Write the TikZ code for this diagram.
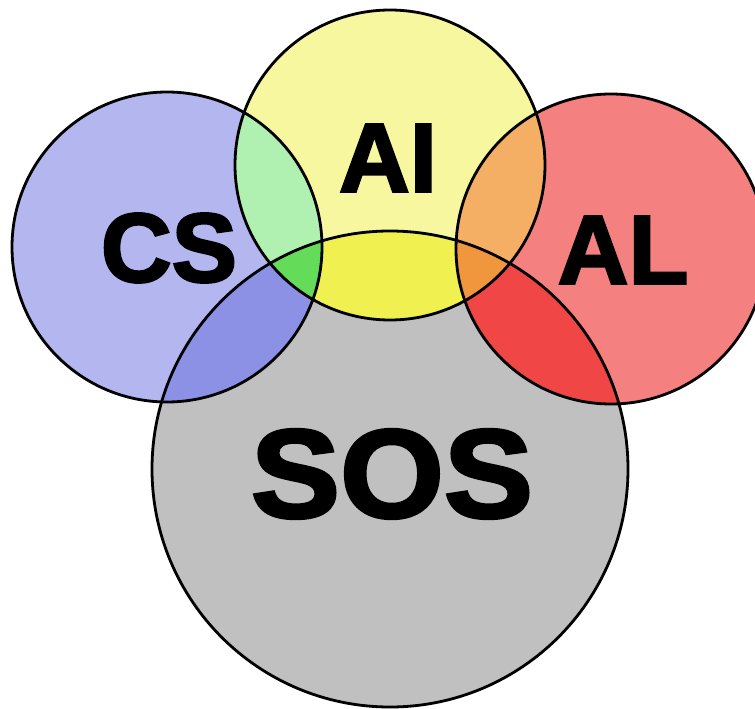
\documentclass[tikz,border=0pt]{standalone}
\usepackage{fontspec}
\setmainfont{Liberation Sans}
\newfontfamily\heavyfont{Liberation Sans}[FakeBold=2.5]
\definecolor{csc}{RGB}{180,182,240}
\definecolor{aic}{RGB}{247,247,160}
\definecolor{alc}{RGB}{245,128,128}
\definecolor{sosc}{RGB}{192,192,192}
\definecolor{csai}{RGB}{176,240,176}
\definecolor{cssos}{RGB}{140,145,230}
\definecolor{aisos}{RGB}{240,240,80}
\definecolor{alsos}{RGB}{240,70,70}
\definecolor{aial}{RGB}{245,175,100}
\definecolor{csaisos}{RGB}{100,220,90}
\definecolor{aialsos}{RGB}{240,150,60}
\tikzset{
  ring/.style={draw=black, line width=2.8pt},
  lbl/.style={inner sep=0pt, font=\heavyfont\bfseries\fontsize{98}{98}\selectfont},
  biglbl/.style={inner sep=0pt, font=\heavyfont\bfseries\fontsize{126}{126}\selectfont, xscale=1.06},
}
\begin{document}
\begin{tikzpicture}[x=1pt,y=-1pt]
\useasboundingbox (0,0) rectangle (755,709);
\clip (0,0) rectangle (755,709);
\def\CS{(167,247) circle[radius=155]}
\def\AI{(390,165) circle[radius=155]}
\def\AL{(611,249) circle[radius=155]}
\def\SOS{(390,469) circle[radius=238]}
% base fills
\fill[sosc] \SOS;
\fill[csc] \CS;
\fill[aic] \AI;
\fill[alc] \AL;
% pairwise overlaps
\begin{scope}\clip \CS; \fill[csai] \AI; \end{scope}
\begin{scope}\clip \CS; \fill[cssos] \SOS; \end{scope}
\begin{scope}\clip \AI; \fill[aisos] \SOS; \end{scope}
\begin{scope}\clip \AL; \fill[alsos] \SOS; \end{scope}
\begin{scope}\clip \AI; \fill[aial] \AL; \end{scope}
% triple overlaps
\begin{scope}\clip \CS; \clip \AI; \fill[csaisos] \SOS; \end{scope}
\begin{scope}\clip \AL; \clip \AI; \fill[aialsos] \SOS; \end{scope}
% outlines
\draw[ring] \SOS;
\draw[ring] \CS;
\draw[ring] \AI;
\draw[ring] \AL;
% labels
\node[lbl] (cs) at (169,248) {CS};
\node[lbl] (ai) at (388,158) {AI};
\node[lbl] (al) at (623,250) {AL};
\node[biglbl] (sos) at (392,474) {SOS};
\end{tikzpicture}
\end{document}
